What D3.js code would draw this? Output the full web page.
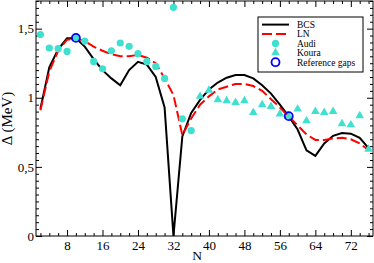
<!DOCTYPE html>
<html>
<head>
<meta charset="utf-8">
<script src="https://cdn.jsdelivr.net/npm/d3@7"></script>
<style>
  body { margin: 0; background: #fff; }
  svg { display: block; font-family: "Liberation Serif", "Times New Roman", serif; }
</style>
</head>
<body>
<div id="chart"></div>
<script>
// Pairing gap vs neutron number
const nEven = d3.range(2, 77, 2);
const bcsGap = [0.92, 1.22, 1.35, 1.43, 1.43, 1.37, 1.28, 1.2, 1.14, 1.09, 1.2, 1.26, 1.24, 1.15, 0.93, 0,
    0.72, 0.89, 0.985, 1.06, 1.11, 1.145, 1.165, 1.165, 1.14, 1.09, 1.03, 0.95, 0.865, 0.77, 0.62, 0.58,
    0.67, 0.725, 0.745, 0.74, 0.71, 0.635];
const lnGap = [0.91, 1.19, 1.34, 1.42, 1.43, 1.41, 1.37, 1.34, 1.315, 1.3, 1.3, 1.31, 1.29, 1.25, 1.14, 1.02,
    0.73, 0.85, 0.95, 1.01, 1.06, 1.08, 1.1, 1.1, 1.085, 1.05, 0.99, 0.93, 0.865, 0.8, 0.735, 0.695,
    0.695, 0.705, 0.71, 0.7, 0.67, 0.62];

const audiN = d3.range(2, 37, 2);
const audiGap = [1.457, 1.36, 1.355, 1.335, 1.433, 1.41, 1.263, 1.21, 1.34, 1.396, 1.372, 1.319, 1.263,
    1.227, 1.14, 1.654, 0.848, 0.763];

const kouraN = d3.range(38, 77, 2);
const kouraGap = [1.01, 1.055, 0.986, 0.978, 0.966, 0.978, 0.894, 0.949, 0.937, 0.882, 0.867, 0.918,
    0.833, 0.901, 0.894, 0.901, 0.812, 0.804, 0.87, 0.628];

const refN = [10, 58];
const refGap = [1.433, 0.867];

const legendNames = ["BCS", "LN", "Audi", "Koura", "Reference gaps"];
const xTicks = d3.range(8, 73, 8);
const yTicks = [0, 0.5, 1, 1.5];

const width = 374, height = 263;
const margin = { top: 1, right: 1, bottom: 27, left: 36 };
const cyan = "#40e0d0";

const svg = d3.select("#chart").append("svg")
    .attr("width", width)
    .attr("height", height);

const x = d3.scaleLinear().domain([1, 77]).range([margin.left, width - margin.right]);
const y = d3.scaleLinear().domain([0, 1.7]).range([height - margin.bottom, margin.top]);

// ticks on all four sides, pointing inward
const minorX = d3.range(2, 77, 2).filter(d => d % 8 !== 0);
const minorY = d3.range(0, 1.7001, 0.05).filter(d => Math.abs(d * 2 - Math.round(d * 2)) > 1e-6);

const addAxis = (axis, tx, ty, ticks, len, labels) => {
    const g = svg.append("g")
        .attr("transform", `translate(${tx},${ty})`)
        .call(axis.tickValues(ticks).tickSize(len).tickPadding(3)
            .tickFormat(labels ? (d => d3.format("")(d).replace(".", ",")) : ""));
    g.select(".domain").remove();
    g.selectAll("line").attr("stroke", "#000").attr("stroke-width", 1);
    g.selectAll("text").attr("font-size", 13).attr("fill", "#000")
        .attr("font-family", "Liberation Serif, serif");
    return g;
};

const y0 = height - margin.bottom, x0 = margin.left;
const x1 = width - margin.right, y1 = margin.top;

// bottom
addAxis(d3.axisBottom(x), 0, y0, xTicks, -6, true)
    .selectAll("text").attr("y", 4.5);
addAxis(d3.axisBottom(x), 0, y0, minorX, -3, false);
// top
addAxis(d3.axisTop(x), 0, y1, xTicks, -6, false);
addAxis(d3.axisTop(x), 0, y1, minorX, -3, false);
// left
addAxis(d3.axisLeft(y), x0, 0, yTicks, -6, true)
    .selectAll("text").attr("x", -2);
addAxis(d3.axisLeft(y), x0, 0, minorY, -3, false);
// right
addAxis(d3.axisRight(y), x1, 0, yTicks, -6, false);
addAxis(d3.axisRight(y), x1, 0, minorY, -3, false);

svg.append("rect")
    .attr("x", x0).attr("y", y1)
    .attr("width", x1 - x0).attr("height", y0 - y1)
    .attr("fill", "none").attr("stroke", "#000").attr("stroke-width", 1);

// axis titles
svg.append("text")
    .attr("x", 197).attr("y", 260)
    .attr("text-anchor", "middle")
    .attr("font-size", 13.5)
    .text("N");

svg.append("text")
    .attr("transform", `translate(12,${y(0.85)}) rotate(-90)`)
    .attr("text-anchor", "middle")
    .attr("font-size", 15)
    .text("Δ (MeV)");

// curves
const line = d3.line().x(d => x(d[0])).y(d => y(d[1]));

svg.append("path")
    .datum(d3.zip(nEven, bcsGap))
    .attr("d", line)
    .attr("fill", "none")
    .attr("stroke", "#000")
    .attr("stroke-width", 2);

svg.append("path")
    .datum(d3.zip(nEven, lnGap))
    .attr("d", line)
    .attr("fill", "none")
    .attr("stroke", "#ff0000")
    .attr("stroke-width", 2)
    .attr("stroke-dasharray", "10,4");

// markers
const tri = d3.symbol().type(d3.symbolTriangle).size(32);

svg.append("g").selectAll("circle")
    .data(d3.zip(audiN, audiGap))
    .join("circle")
    .attr("cx", d => x(d[0])).attr("cy", d => y(d[1]))
    .attr("r", 3.6)
    .attr("fill", cyan);

svg.append("g").selectAll("path")
    .data(d3.zip(kouraN, kouraGap))
    .join("path")
    .attr("d", tri)
    .attr("transform", d => `translate(${x(d[0])},${y(d[1])})`)
    .attr("fill", cyan);

svg.append("g").selectAll("circle")
    .data(d3.zip(refN, refGap))
    .join("circle")
    .attr("cx", d => x(d[0])).attr("cy", d => y(d[1]))
    .attr("r", 4)
    .attr("fill", "none")
    .attr("stroke", "#0000ff")
    .attr("stroke-width", 1.8);

// legend
const legend = svg.append("g").attr("transform", "translate(258,17)");
legend.append("rect")
    .attr("width", 105).attr("height", 55)
    .attr("fill", "#fff").attr("stroke", "#000").attr("stroke-width", 1);

const item = legend.selectAll(".legend-item")
    .data(legendNames)
    .join("g")
    .attr("class", "legend-item")
    .attr("transform", (d, i) => `translate(0,${7.6 + i * 9.4})`);

item.append("text")
    .attr("x", 39).attr("y", 3.3)
    .attr("font-size", 9.5)
    .text(d => d);

item.filter((d, i) => i === 0).append("line")
    .attr("x1", 4).attr("x2", 31)
    .attr("stroke", "#000").attr("stroke-width", 2);
item.filter((d, i) => i === 1).append("line")
    .attr("x1", 4).attr("x2", 31)
    .attr("stroke", "#ff0000").attr("stroke-width", 2)
    .attr("stroke-dasharray", "10,4");
item.filter((d, i) => i === 2).append("circle")
    .attr("cx", 17.5).attr("r", 3.6).attr("fill", cyan);
item.filter((d, i) => i === 3).append("path")
    .attr("d", tri).attr("transform", "translate(17.5,0)").attr("fill", cyan);
item.filter((d, i) => i === 4).append("circle")
    .attr("cx", 17.5).attr("r", 4)
    .attr("fill", "none").attr("stroke", "#0000ff").attr("stroke-width", 1.8);
</script>
</body>
</html>
